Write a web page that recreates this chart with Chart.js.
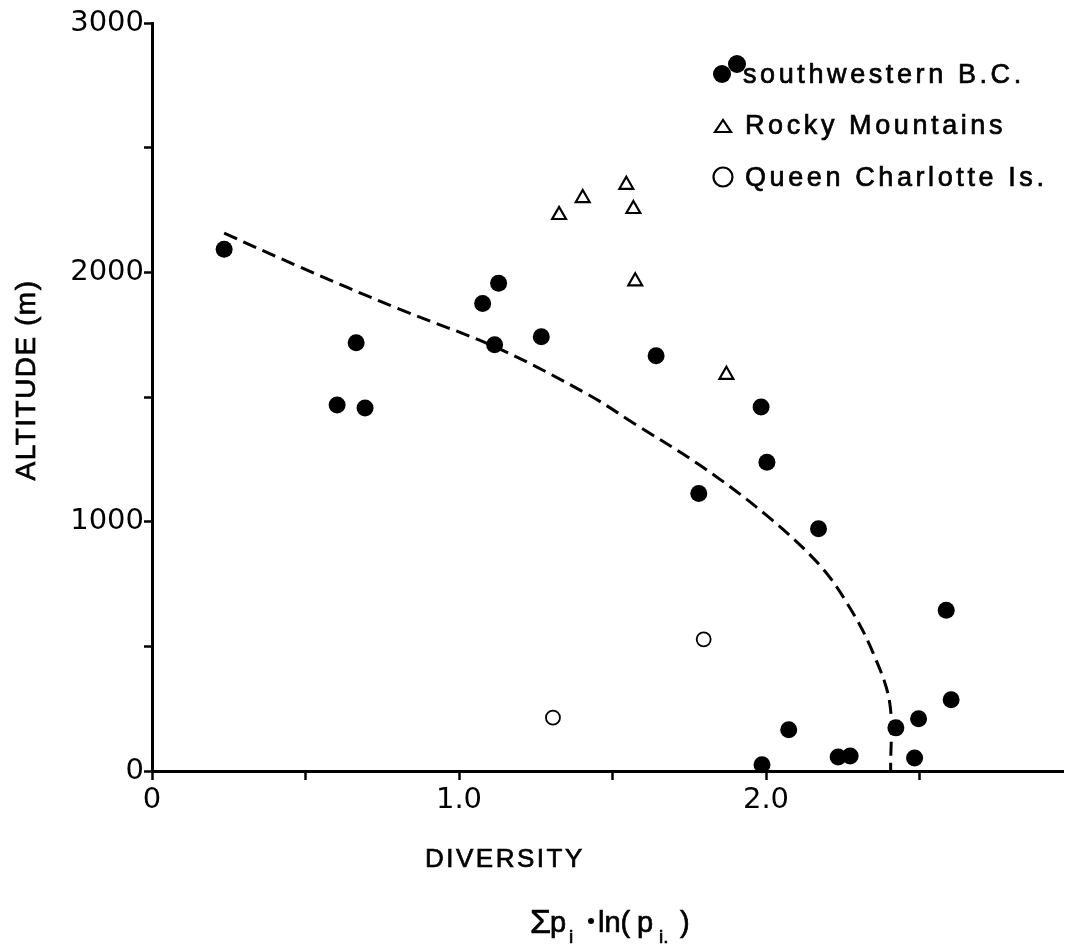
<!DOCTYPE html>
<html>
<head>
<meta charset="utf-8">
<script src="https://cdn.jsdelivr.net/npm/chart.js@4"></script>
<style>
  body { margin: 0; background: #fff; }
  #wrap { width: 1074px; height: 944px; }
</style>
</head>
<body>
<div id="wrap"><canvas id="chart" width="1074" height="944"></canvas></div>
<script>
// southwestern B.C. (filled circles)
const swX = [0.235, 0.665, 0.603, 0.694, 1.129, 1.077, 1.116, 1.268, 1.642, 1.984, 2.003, 1.781, 2.171,
             1.987, 2.074, 2.235, 2.274, 2.423, 2.497, 2.484, 2.603, 2.587];
const swY = [2093, 1718, 1468, 1456, 1956, 1875, 1710, 1742, 1665, 1460, 1238, 1113, 972,
             25, 165, 56, 60, 173, 210, 52, 286, 645];
// Rocky Mountains (open triangles)
const rockyX = [1.326, 1.403, 1.545, 1.568, 1.574, 1.871];
const rockyY = [2230, 2298, 2351, 2254, 1964, 1589];
// Queen Charlotte Is. (open circles)
const qciX = [1.306, 1.797];
const qciY = [214, 528];
// dashed fitted curve
const curveX = [0.235, 0.477, 0.8, 1.123, 1.423, 1.574, 1.79, 2.003, 2.177, 2.274, 2.348, 2.403, 2.406];
const curveY = [2157, 2024, 1855, 1698, 1508, 1391, 1222, 1024, 823, 653, 476, 274, 0];

const xLabels = { 0: "0", 1: "1.0", 2: "2.0" };
const yLabels = { 0: "0", 1000: "1000", 2000: "2000", 3000: "3000" };

const legendItems = ["southwestern B.C.", "Rocky Mountains", "Queen Charlotte Is."];

const toPoints = (xs, ys) => xs.map((x, i) => ({ x: x, y: ys[i] }));

const txtFont = "'Liberation Sans', Arial, sans-serif";

// Text etwas kräftiger zeichnen (wie im Scan)
function boldText(ctx, s, x, y) {
    ctx.fillText(s, x, y);
    ctx.strokeText(s, x, y);
}

// Beschriftung, Legende und Formel direkt auf die Leinwand
const textPlugin = {
    id: "texts",
    afterDraw(chart) {
        const ctx = chart.ctx;
        ctx.save();
        ctx.fillStyle = "#000";
        ctx.strokeStyle = "#000";
        ctx.textBaseline = "alphabetic";
        ctx.textAlign = "left";

        // legend markers
        ctx.beginPath(); ctx.arc(722, 74, 9, 0, Math.PI * 2); ctx.fill();
        ctx.beginPath(); ctx.arc(737, 64, 9, 0, Math.PI * 2); ctx.fill();
        ctx.lineWidth = 2.2;
        ctx.beginPath();
        ctx.moveTo(715, 132); ctx.lineTo(731, 132); ctx.lineTo(723, 120); ctx.closePath();
        ctx.stroke();
        ctx.beginPath(); ctx.arc(723, 177, 9.5, 0, Math.PI * 2); ctx.stroke();

        // legend text
        ctx.lineWidth = 0.7;
        ctx.font = "27px " + txtFont;
        ctx.letterSpacing = "3.6px";
        boldText(ctx, legendItems[0], 743, 83);
        boldText(ctx, legendItems[1], 745, 134);
        boldText(ctx, legendItems[2], 745, 186);

        // x title
        ctx.font = "26px " + txtFont;
        ctx.letterSpacing = "2.5px";
        boldText(ctx, "DIVERSITY", 425, 867);

        // formula
        ctx.letterSpacing = "0px";
        ctx.font = "34px " + txtFont;
        boldText(ctx, "\u03A3", 530, 933);
        ctx.font = "29px " + txtFont;
        boldText(ctx, "p", 550, 932);
        boldText(ctx, "ln(", 598, 932);
        boldText(ctx, "p", 637, 932);
        boldText(ctx, ")", 680, 932);
        ctx.font = "19px " + txtFont;
        boldText(ctx, "i", 569, 943);
        boldText(ctx, "i.", 659, 943);
        ctx.beginPath(); ctx.arc(591, 921, 3, 0, Math.PI * 2); ctx.fill();

        // y title
        ctx.font = "28px " + txtFont;
        ctx.letterSpacing = "1.5px";
        ctx.translate(35, 380);
        ctx.rotate(-Math.PI / 2);
        ctx.textAlign = "center";
        boldText(ctx, "ALTITUDE (m)", 0, 0);
        ctx.restore();
    }
};

new Chart(document.getElementById("chart"), {
    type: "scatter",
    data: {
        datasets: [
            {
                label: legendItems[0],
                data: toPoints(swX, swY),
                pointStyle: "circle",
                pointRadius: 8.5,
                backgroundColor: "#000",
                borderColor: "#000",
                borderWidth: 0,
                clip: false,
                order: 1,
            },
            {
                label: legendItems[1],
                data: toPoints(rockyX, rockyY),
                pointStyle: "triangle",
                pointRadius: 8,
                backgroundColor: "#fff",
                borderColor: "#000",
                borderWidth: 2.2,
                clip: false,
                order: 1,
            },
            {
                label: legendItems[2],
                data: toPoints(qciX, qciY),
                pointStyle: "circle",
                pointRadius: 7,
                backgroundColor: "#fff",
                borderColor: "#000",
                borderWidth: 1.8,
                clip: false,
                order: 1,
            },
            {
                label: "fit",
                data: toPoints(curveX, curveY),
                showLine: true,
                pointRadius: 0,
                borderColor: "#000",
                borderWidth: 3,
                borderDash: [14, 7],
                tension: 0.35,
                clip: false,
                order: 2,
            },
        ],
    },
    options: {
        responsive: false,
        animation: false,
        layout: { padding: { left: 0, top: 23, right: 0, bottom: 0 } },
        plugins: { legend: { display: false }, tooltip: { enabled: false } },
        scales: {
            x: {
                type: "linear",
                min: 0,
                max: 2.97,
                afterFit: (s) => { s.height = 944 - 23 - 748; },
                border: { color: "#000", width: 3 },
                grid: { drawOnChartArea: false, drawTicks: true, tickLength: 9, tickWidth: 2.5, tickColor: "#000" },
                ticks: {
                    stepSize: 0.5,
                    includeBounds: false,
                    padding: 3,
                    color: "#000",
                    font: { family: "'DejaVu Sans', sans-serif", size: 29 },
                    maxRotation: 0,
                    autoSkip: false,
                    callback: (v) => (xLabels[v] !== undefined ? xLabels[v] : ""),
                },
            },
            y: {
                type: "linear",
                min: 0,
                max: 3000,
                afterFit: (s) => { s.width = 152; },
                border: { color: "#000", width: 3 },
                grid: { drawOnChartArea: false, drawTicks: true, tickLength: 8, tickWidth: 2.5, tickColor: "#000" },
                ticks: {
                    stepSize: 500,
                    padding: 0,
                    color: "#000",
                    font: { family: "'DejaVu Sans', sans-serif", size: 29 },
                    autoSkip: false,
                    callback: (v) => (yLabels[v] !== undefined ? yLabels[v] : ""),
                },
            },
        },
    },
    plugins: [textPlugin],
});
</script>
</body>
</html>
